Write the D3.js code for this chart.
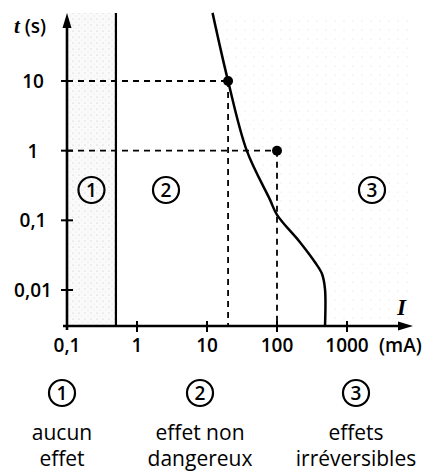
<!DOCTYPE html>
<html>
<head>
<meta charset="utf-8">
<script src="https://cdn.jsdelivr.net/npm/d3@7"></script>
<style>
body{ margin:0; background:#fff; }
svg text{ font-family:"Open Sans", "DejaVu Sans", sans-serif; fill:#000; }
</style>
</head>
<body>
<script>
// current (mA) -> time (s)
var curveI = [12, 20, 37, 79, 100, 213, 349, 440, 485, 485];
var curveT = [95, 10, 1, 0.2, 0.12, 0.0485, 0.025, 0.017, 0.0103, 0.003];

// marked points with their dashed guides
var markI = [20, 100];
var markT = [10, 1];

// threshold of zone 1
var limitI = 0.5;

var xTicks = [0.1, 1, 10, 100, 1000];
var xLabels = ["0,1", "1", "10", "100", "1000"];
var yTicks = [10, 1, 0.1, 0.01];
var yLabels = ["10", "1", "0,1", "0,01"];

var zoneNames = ["1", "2", "3"];
var zoneLines1 = ["aucun", "effet non", "effets"];
var zoneLines2 = ["effet", "dangereux", "irréversibles"];

var width = 424,
    height = 473;

var x = d3.scaleLog().domain([0.1, 1000]).range([67, 347]);
var y = d3.scaleLog().domain([0.01, 10]).range([290, 81]);

var axisY = 326,  // pixel of the time axis
    topY = 13,    // top of arrow
    rightX = 413;

var svg = d3.select("body").append("svg")
    .attr("width", width)
    .attr("height", height);

// stipple patterns
var defs = svg.append("defs");
var p1 = defs.append("pattern").attr("id", "dots1")
    .attr("width", 6).attr("height", 6).attr("patternUnits", "userSpaceOnUse");
p1.append("rect").attr("width", 6).attr("height", 6).attr("fill", "#fafafa");
p1.append("circle").attr("cx", 1).attr("cy", 1).attr("r", 0.6).attr("fill", "#c4c4c4");
p1.append("circle").attr("cx", 4).attr("cy", 4).attr("r", 0.5).attr("fill", "#dadada");
var p3 = defs.append("pattern").attr("id", "dots3")
    .attr("width", 9).attr("height", 9).attr("patternUnits", "userSpaceOnUse");
p3.append("circle").attr("cx", 2).attr("cy", 3).attr("r", 0.5).attr("fill", "#d0d0d0");
p3.append("circle").attr("cx", 7).attr("cy", 7).attr("r", 0.4).attr("fill", "#e2e2e2");

// zone 1 shading
svg.append("rect")
    .attr("x", x(0.1)).attr("y", topY)
    .attr("width", x(limitI) - x(0.1))
    .attr("height", axisY - topY)
    .attr("fill", "url(#dots1)");

// zone 3 speckle (right of curve)
var line = d3.line()
    .x(function(d){ return x(d[0]); })
    .y(function(d){ return y(d[1]); })
    .curve(d3.curveCatmullRom.alpha(0.5));
var pts = curveI.map(function(v, i){ return [v, curveT[i]]; });

var area3 = line(pts) + "L" + (rightX - 5) + "," + axisY + "L" + (rightX - 5) + "," + topY + "Z";
svg.append("path").attr("d", area3).attr("fill", "url(#dots3)");

// dashed guides
markI.forEach(function(v, i){
    svg.append("line")
        .attr("x1", x(0.1)).attr("x2", x(v))
        .attr("y1", y(markT[i])).attr("y2", y(markT[i]))
        .attr("stroke", "#000").attr("stroke-width", 1.8)
        .attr("stroke-dasharray", "6,5");
    svg.append("line")
        .attr("x1", x(v)).attr("x2", x(v))
        .attr("y1", y(markT[i])).attr("y2", axisY)
        .attr("stroke", "#000").attr("stroke-width", 1.8)
        .attr("stroke-dasharray", "6,5");
});

// zone 1 limit
svg.append("line")
    .attr("x1", x(limitI)).attr("x2", x(limitI))
    .attr("y1", topY).attr("y2", axisY)
    .attr("stroke", "#000").attr("stroke-width", 2.2);

// curve
svg.append("path")
    .attr("d", line(pts))
    .attr("fill", "none")
    .attr("stroke", "#000")
    .attr("stroke-width", 2.5);

// points
svg.selectAll("circle.mark")
    .data(markI).enter().append("circle")
    .attr("class", "mark")
    .attr("cx", function(d){ return x(d); })
    .attr("cy", function(d, i){ return y(markT[i]); })
    .attr("r", 5)
    .attr("fill", "#000");

// axes
svg.append("line")
    .attr("x1", x(0.1)).attr("x2", x(0.1))
    .attr("y1", axisY + 4).attr("y2", topY + 10)
    .attr("stroke", "#000").attr("stroke-width", 2.6);
svg.append("path")
    .attr("d", "M" + x(0.1) + "," + topY + "l-4.5,15l9,0Z")
    .attr("fill", "#000");
svg.append("line")
    .attr("x1", x(0.1) - 4).attr("x2", rightX - 10)
    .attr("y1", axisY).attr("y2", axisY)
    .attr("stroke", "#000").attr("stroke-width", 2.6);
svg.append("path")
    .attr("d", "M" + rightX + "," + axisY + "l-15,-4.5l0,9Z")
    .attr("fill", "#000");

// ticks
svg.selectAll("line.ytick")
    .data(yTicks).enter().append("line")
    .attr("x1", x(0.1) - 6).attr("x2", x(0.1) + 6)
    .attr("y1", function(d){ return y(d); })
    .attr("y2", function(d){ return y(d); })
    .attr("stroke", "#000").attr("stroke-width", 2);
svg.selectAll("line.xtick")
    .data(xTicks.slice(1)).enter().append("line")
    .attr("x1", function(d){ return x(d); })
    .attr("x2", function(d){ return x(d); })
    .attr("y1", axisY - 5).attr("y2", axisY + 6)
    .attr("stroke", "#000").attr("stroke-width", 2);

svg.selectAll("text.ylab")
    .data(yTicks).enter().append("text")
    .attr("x", 33)
    .attr("y", function(d){ return y(d) + 7; })
    .attr("text-anchor", "middle")
    .style("font-size", "19px")
    .style("font-weight", 600)
    .text(function(d, i){ return yLabels[i]; });

svg.selectAll("text.xlab")
    .data(xTicks).enter().append("text")
    .attr("x", function(d){ return x(d); })
    .attr("y", 352)
    .attr("text-anchor", "middle")
    .style("font-size", "19px")
    .style("font-weight", 600)
    .text(function(d, i){ return xLabels[i]; });

svg.append("text")
    .attr("x", 379).attr("y", 352)
    .style("font-size", "19px")
    .style("font-weight", 600)
    .text("(mA)");

// axis titles
var tt = svg.append("text").attr("x", 14).attr("y", 33)
    .style("font-size", "19px").style("font-weight", 600);
tt.append("tspan").style("font-family", "'Liberation Serif', serif")
    .style("font-style", "italic").style("font-weight", 700).style("font-size", "21px").text("t");
tt.append("tspan").text(" (s)");

svg.append("text")
    .attr("x", 397).attr("y", 315)
    .style("font-family", "'Liberation Serif', serif")
    .style("font-style", "italic")
    .style("font-weight", 700)
    .style("font-size", "23px")
    .text("I");

// circled zone numbers
function circled(cx, cy, label){
    svg.append("circle")
        .attr("cx", cx).attr("cy", cy).attr("r", 13)
        .attr("fill", "none").attr("stroke", "#000").attr("stroke-width", 2.2);
    svg.append("text")
        .attr("x", cx).attr("y", cy + 7)
        .attr("text-anchor", "middle")
        .style("font-size", "19px")
        .style("font-weight", 600)
        .text(label);
}

var zoneMid = [x(Math.sqrt(0.1 * limitI)), 166, 372];
zoneNames.forEach(function(n, i){ circled(zoneMid[i], 190, n); });

var legendX = [62, 200, 356];
zoneNames.forEach(function(n, i){
    circled(legendX[i], 393, n);
    svg.append("text")
        .attr("x", legendX[i]).attr("y", 440)
        .attr("text-anchor", "middle")
        .style("font-size", "21px")
        .style("font-weight", 500)
        .text(zoneLines1[i]);
    svg.append("text")
        .attr("x", legendX[i]).attr("y", 466)
        .attr("text-anchor", "middle")
        .style("font-size", "21px")
        .style("font-weight", 500)
        .text(zoneLines2[i]);
});
</script>
</body>
</html>
